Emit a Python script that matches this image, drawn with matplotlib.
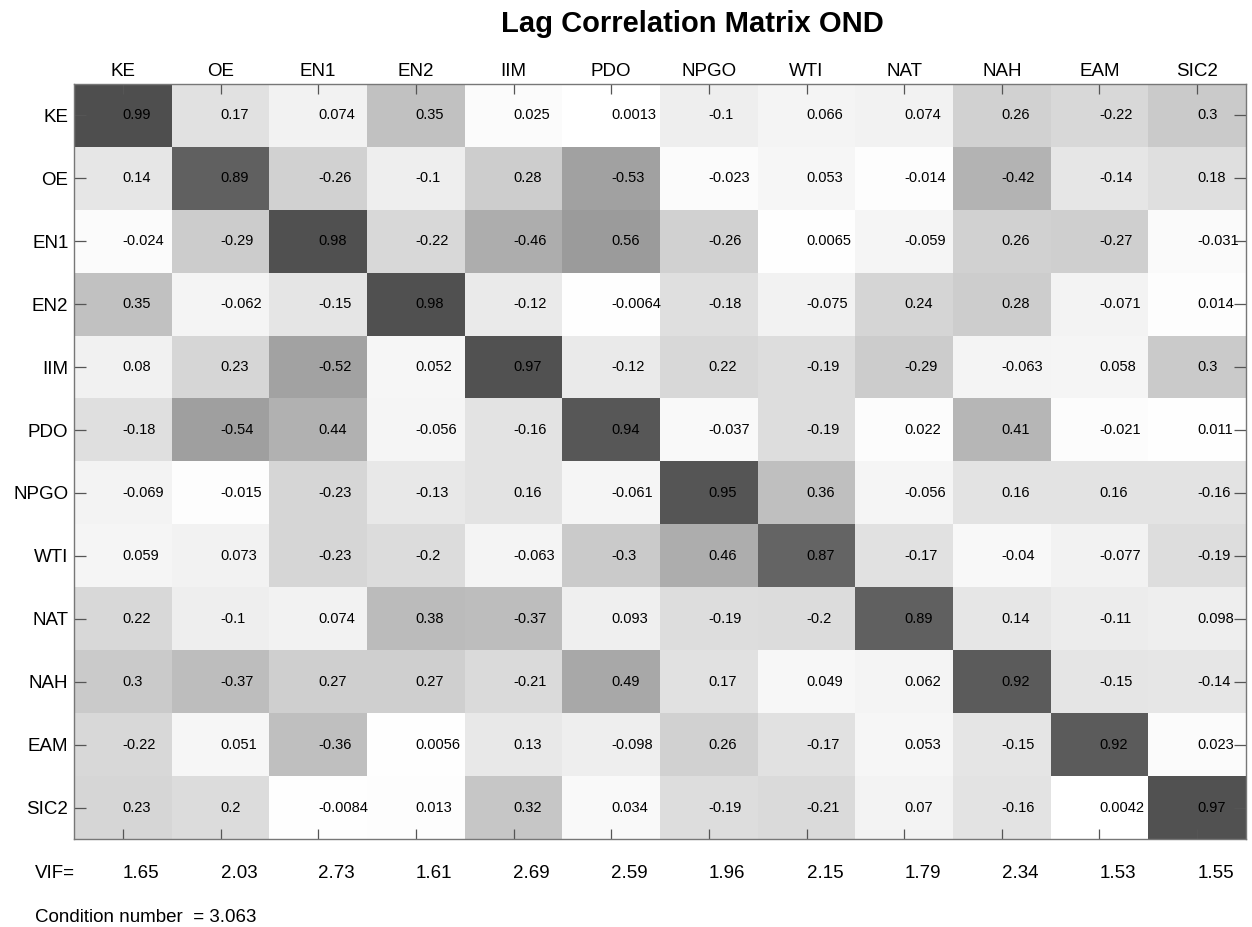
import numpy as np
import matplotlib
matplotlib.use("Agg")
import matplotlib.pyplot as plt
from matplotlib.transforms import blended_transform_factory

plt.rcParams['font.family'] = ['Liberation Sans', 'DejaVu Sans']

labels = ["KE", "OE", "EN1", "EN2", "IIM", "PDO", "NPGO", "WTI", "NAT", "NAH", "EAM", "SIC2"]

row_KE   = [0.99, 0.17, 0.074, 0.35, 0.025, 0.0013, -0.1, 0.066, 0.074, 0.26, -0.22, 0.3]
row_OE   = [0.14, 0.89, -0.26, -0.1, 0.28, -0.53, -0.023, 0.053, -0.014, -0.42, -0.14, 0.18]
row_EN1  = [-0.024, -0.29, 0.98, -0.22, -0.46, 0.56, -0.26, 0.0065, -0.059, 0.26, -0.27, -0.031]
row_EN2  = [0.35, -0.062, -0.15, 0.98, -0.12, -0.0064, -0.18, -0.075, 0.24, 0.28, -0.071, 0.014]
row_IIM  = [0.08, 0.23, -0.52, 0.052, 0.97, -0.12, 0.22, -0.19, -0.29, -0.063, 0.058, 0.3]
row_PDO  = [-0.18, -0.54, 0.44, -0.056, -0.16, 0.94, -0.037, -0.19, 0.022, 0.41, -0.021, 0.011]
row_NPGO = [-0.069, -0.015, -0.23, -0.13, 0.16, -0.061, 0.95, 0.36, -0.056, 0.16, 0.16, -0.16]
row_WTI  = [0.059, 0.073, -0.23, -0.2, -0.063, -0.3, 0.46, 0.87, -0.17, -0.04, -0.077, -0.19]
row_NAT  = [0.22, -0.1, 0.074, 0.38, -0.37, 0.093, -0.19, -0.2, 0.89, 0.14, -0.11, 0.098]
row_NAH  = [0.3, -0.37, 0.27, 0.27, -0.21, 0.49, 0.17, 0.049, 0.062, 0.92, -0.15, -0.14]
row_EAM  = [-0.22, 0.051, -0.36, 0.0056, 0.13, -0.098, 0.26, -0.17, 0.053, -0.15, 0.92, 0.023]
row_SIC2 = [0.23, 0.2, -0.0084, 0.013, 0.32, 0.034, -0.19, -0.21, 0.07, -0.16, 0.0042, 0.97]

vif = [1.65, 2.03, 2.73, 1.61, 2.69, 2.59, 1.96, 2.15, 1.79, 2.34, 1.53, 1.55]
condition_number = 3.063

M = np.array([row_KE, row_OE, row_EN1, row_EN2, row_IIM, row_PDO, row_NPGO,
              row_WTI, row_NAT, row_NAH, row_EAM, row_SIC2])

W, H = 1252, 927
fig = plt.figure(figsize=(W / 100, H / 100), dpi=100)
ax = fig.add_axes([74 / W, 1 - 839 / H, (1246 - 74) / W, (839 - 84) / H])

ax.imshow(np.abs(M), cmap='gray_r', vmin=0, vmax=1.43, aspect='auto',
          interpolation='nearest')

n = len(labels)
for i in range(n):
    for j in range(n):
        ax.text(j, i, format(M[i, j], '.2g'), ha='left', va='center',
                fontsize=10.5, color='black')

ax.set_xticks(range(n))
ax.set_yticks(range(n))
ax.set_xticklabels(labels, fontsize=13.5)
ax.set_yticklabels(labels, fontsize=13.5)
ax.tick_params(axis='x', top=True, bottom=True, labeltop=True, labelbottom=False,
               direction='in', length=7.5, width=0.9, color='#555555', pad=3)
ax.tick_params(axis='y', left=True, right=True, labelleft=True, labelright=False,
               direction='in', length=8.5, width=0.9, color='#555555', pad=4)
for s in ax.spines.values():
    s.set_color('#777777')
    s.set_linewidth(1.0)

trans = blended_transform_factory(ax.transData, fig.transFigure)
y_vif = 1 - 873 / H
for j, v in enumerate(vif):
    ax.text(j, y_vif, format(v, '.2f'), transform=trans, ha='left', va='center',
            fontsize=13.5, clip_on=False)
fig.text(35 / W, y_vif, "VIF=", ha='left', va='center', fontsize=13.5)
fig.text(35 / W, 1 - 917 / H, "Condition number  = %.3f" % condition_number,
         ha='left', va='center', fontsize=13.5)

fig.text(692 / W, 1 - 32 / H, "Lag Correlation Matrix OND", ha='center',
         va='baseline', fontsize=21, fontweight='bold')

fig.savefig("out.png", dpi=100)
